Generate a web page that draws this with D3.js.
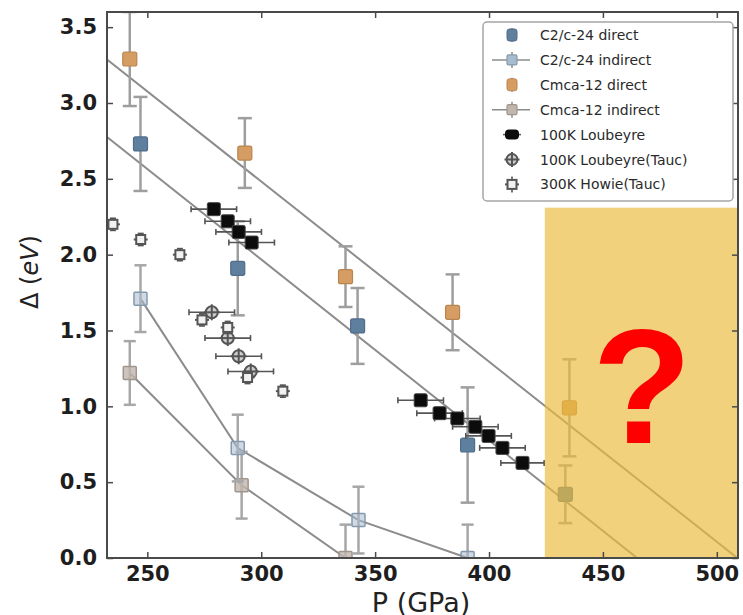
<!DOCTYPE html>
<html>
<head>
<meta charset="utf-8">
<script src="https://cdn.jsdelivr.net/npm/d3@7/dist/d3.min.js"></script>
<style>
  html, body { margin: 0; padding: 0; background: #fff; }
  svg { display: block; }
</style>
</head>
<body>
<svg id="chart" width="743" height="615"></svg>
<script>
// ---- data: band gap Δ (eV) versus pressure P (GPa) ----
const xTicks = [250, 300, 350, 400, 450, 500];
const yTicks = [0.0, 0.5, 1.0, 1.5, 2.0, 2.5, 3.0, 3.5];

// C2/c-24 direct gap
const c2cDirectP   = [247, 289.7, 342.3, 390.6, 433.5];
const c2cDirectGap = [2.73, 1.91, 1.53, 0.745, 0.42];
const c2cDirectErr = [0.31, 0.31, 0.25, 0.38, 0.19];

// C2/c-24 indirect gap
const c2cIndirectP   = [247, 289.7, 342.7, 390.6];
const c2cIndirectGap = [1.71, 0.725, 0.25, 0.0];
const c2cIndirectErr = [0.22, 0.22, 0.22, 0.22];

// Cmca-12 direct gap
const cmcaDirectP   = [242.3, 292.8, 337, 384, 435.3];
const cmcaDirectGap = [3.29, 2.67, 1.855, 1.62, 0.99];
const cmcaDirectErr = [0.31, 0.23, 0.20, 0.25, 0.32];

// Cmca-12 indirect gap
const cmcaIndirectP   = [242.3, 291.4, 337];
const cmcaIndirectGap = [1.22, 0.48, 0.0];
const cmcaIndirectErr = [0.21, 0.22, 0.22];

// 100K Loubeyre (absorption edge), with pressure uncertainty
const loubeyreP    = [279.2, 285.3, 290.1, 295.8, 370, 378.3, 386.1, 394, 399.8, 405.9, 414.7];
const loubeyreGap  = [2.30, 2.22, 2.15, 2.08, 1.04, 0.955, 0.92, 0.865, 0.805, 0.726, 0.627];
const loubeyrePErr = [10, 10, 10, 10, 10, 10, 10, 10, 10, 10, 9.5];

// 100K Loubeyre (Tauc)
const taucP    = [278.3, 285.3, 290.1, 295.4];
const taucGap  = [1.62, 1.45, 1.33, 1.23];
const taucPErr = [10, 10, 10, 10];

// 300K Howie (Tauc)
const howieP   = [234.9, 247.1, 264.3, 274, 285.3, 294, 309.5];
const howieGap = [2.20, 2.10, 2.00, 1.57, 1.52, 1.19, 1.10];
const howieErr = [0.04, 0.04, 0.04, 0.04, 0.04, 0.04, 0.04];

// linear extrapolations of the direct gaps down to closure
const fitCmcaP   = [232, 509];
const fitCmcaGap = [3.29, 0.0];
const fitC2cP    = [232, 465];
const fitC2cGap  = [2.78, 0.0];

// unexplored high-pressure window
const unknownP   = [424.5, 510];
const unknownGap = [0.0, 2.31];

const legendLabels = [
  "C2/c-24 direct", "C2/c-24 indirect", "Cmca-12 direct", "Cmca-12 indirect",
  "100K Loubeyre", "100K Loubeyre(Tauc)", "300K Howie(Tauc)"
];

// ---- layout ----
const W = 743, H = 615;
const M = { left: 107, right: 5, top: 12, bottom: 57 };
const svg = d3.select("#chart");

const x = d3.scaleLinear().domain([232.3, 509.3]).range([M.left, W - M.right]);
const y = d3.scaleLinear().domain([0, 3.6]).range([H - M.bottom, M.top]);

const C = {
  c2c: "#5f7f9f", c2cEdge: "#4f6d8a",
  c2cInd: "#a9bccd", c2cIndEdge: "#8399ae",
  cmca: "#d59d63", cmcaEdge: "#b9854f",
  cmcaInd: "#c1b6ac", cmcaIndEdge: "#a0958c",
  err: "#9e9e9e", line: "#8c8c8c", dark: "#222"
};

const defs = svg.append("defs");
defs.append("clipPath").attr("id", "plotclip")
  .append("rect")
  .attr("x", M.left).attr("y", M.top)
  .attr("width", W - M.left - M.right).attr("height", H - M.top - M.bottom);

const plot = svg.append("g").attr("clip-path", "url(#plotclip)");

const zip = (a, b, c) => a.map((v, i) => ({ p: v, g: b[i], e: c ? c[i] : 0 }));

// ---- fit lines and indirect connecting lines ----
const line = d3.line().x(d => x(d.p)).y(d => y(d.g));
[[fitCmcaP, fitCmcaGap], [fitC2cP, fitC2cGap],
 [c2cIndirectP, c2cIndirectGap], [cmcaIndirectP, cmcaIndirectGap]].forEach(([ps, gs]) => {
  plot.append("path")
    .datum(zip(ps, gs))
    .attr("d", line)
    .attr("fill", "none")
    .attr("stroke", C.line)
    .attr("stroke-width", 2);
});

// ---- vertical error bars ----
function vErr(data, color, width, cap) {
  const g = plot.append("g").attr("stroke", color).attr("stroke-width", width).attr("fill", "none");
  data.forEach(d => {
    const y0 = y(d.g - d.e), y1 = y(d.g + d.e), cx = x(d.p);
    g.append("line").attr("x1", cx).attr("x2", cx).attr("y1", y0).attr("y2", y1);
    g.append("line").attr("x1", cx - cap).attr("x2", cx + cap).attr("y1", y0).attr("y2", y0);
    g.append("line").attr("x1", cx - cap).attr("x2", cx + cap).attr("y1", y1).attr("y2", y1);
  });
}
// ---- horizontal error bars ----
function hErr(data, color, width, cap) {
  const g = plot.append("g").attr("stroke", color).attr("stroke-width", width).attr("fill", "none");
  data.forEach(d => {
    const x0 = x(d.p - d.e), x1 = x(d.p + d.e), cy = y(d.g);
    g.append("line").attr("x1", x0).attr("x2", x1).attr("y1", cy).attr("y2", cy);
    g.append("line").attr("x1", x0).attr("x2", x0).attr("y1", cy - cap).attr("y2", cy + cap);
    g.append("line").attr("x1", x1).attr("x2", x1).attr("y1", cy - cap).attr("y2", cy + cap);
  });
}
function squares(data, size, fill, stroke, sw, rx, opacity) {
  plot.append("g").selectAll("rect").data(data).join("rect")
    .attr("x", d => x(d.p) - size / 2)
    .attr("y", d => y(d.g) - size / 2)
    .attr("width", size).attr("height", size)
    .attr("rx", rx || 0)
    .attr("fill", fill).attr("fill-opacity", opacity == null ? 1 : opacity)
    .attr("stroke", stroke).attr("stroke-width", sw);
}

const cmcaInd = zip(cmcaIndirectP, cmcaIndirectGap, cmcaIndirectErr);
const c2cInd = zip(c2cIndirectP, c2cIndirectGap, c2cIndirectErr);
const cmcaDir = zip(cmcaDirectP, cmcaDirectGap, cmcaDirectErr);
const c2cDir = zip(c2cDirectP, c2cDirectGap, c2cDirectErr);

vErr(cmcaInd, "#a7a7a7", 2.5, 6);
squares(cmcaInd, 13, C.cmcaInd, C.cmcaIndEdge, 1.5, 1, 0.8);
vErr(c2cInd, "#a7a7a7", 2.5, 6);
squares(c2cInd, 13, C.c2cInd, C.c2cIndEdge, 1.5, 1, 0.55);

vErr(cmcaDir, C.err, 2.5, 7);
squares(cmcaDir, 14, C.cmca, C.cmcaEdge, 1.2, 2);
vErr(c2cDir, C.err, 2.5, 7);
squares(c2cDir, 14, C.c2c, C.c2cEdge, 1.2, 2);

// Loubeyre absorption points
const lou = zip(loubeyreP, loubeyreGap, loubeyrePErr);
hErr(lou, "#555", 1.6, 3);
squares(lou, 13, "#0c0c0c", "#444", 1, 1.5);

// Loubeyre Tauc points: ring with a cross
const tauc = zip(taucP, taucGap, taucPErr);
hErr(tauc, "#555", 1.6, 3);
function crossRing(g, cx, cy, r) {
  g.append("circle").attr("cx", cx).attr("cy", cy).attr("r", r)
    .attr("fill", "#cfcfcf").attr("stroke", "#555").attr("stroke-width", 2);
  g.append("line").attr("x1", cx - r - 2).attr("x2", cx + r + 2).attr("y1", cy).attr("y2", cy)
    .attr("stroke", "#555").attr("stroke-width", 2);
  g.append("line").attr("x1", cx).attr("x2", cx).attr("y1", cy - r - 2).attr("y2", cy + r + 2)
    .attr("stroke", "#555").attr("stroke-width", 2);
}
const taucG = plot.append("g");
tauc.forEach(d => crossRing(taucG, x(d.p), y(d.g), 6));

// Howie points: small open square with short vertical bar
const howie = zip(howieP, howieGap, howieErr);
vErr(howie, "#555", 1.6, 3);
function howieMark(g, cx, cy) {
  g.append("rect").attr("x", cx - 4.5).attr("y", cy - 4.5).attr("width", 9).attr("height", 9)
    .attr("fill", "#f2f2f2").attr("stroke", "#555").attr("stroke-width", 2);
  g.append("line").attr("x1", cx - 7).attr("x2", cx - 4.5).attr("y1", cy).attr("y2", cy)
    .attr("stroke", "#555").attr("stroke-width", 2);
  g.append("line").attr("x1", cx + 4.5).attr("x2", cx + 7).attr("y1", cy).attr("y2", cy)
    .attr("stroke", "#555").attr("stroke-width", 2);
}
const howieG = plot.append("g");
howie.forEach(d => howieMark(howieG, x(d.p), y(d.g)));

// ---- translucent highlight over the unexplored window ----
plot.append("rect")
  .attr("x", x(unknownP[0]))
  .attr("y", y(unknownGap[1]))
  .attr("width", x(unknownP[1]) - x(unknownP[0]))
  .attr("height", y(unknownGap[0]) - y(unknownGap[1]))
  .attr("fill", "#ebbb3c")
  .attr("fill-opacity", 0.68);

svg.append("text")
  .attr("x", 642).attr("y", 443)
  .attr("text-anchor", "middle")
  .attr("font-family", "Liberation Sans, Arial, sans-serif")
  .attr("font-weight", "bold")
  .attr("font-size", 163)
  .attr("fill", "#ff0000")
  .text("?");

// ---- axes: inward ticks on all four sides ----
const frame = "#4a4a4a";
const tickFont = "DejaVu Sans, sans-serif";
const axB = svg.append("g").attr("transform", `translate(0,${H - M.bottom})`)
  .call(d3.axisBottom(x).tickValues(xTicks).tickSizeInner(-6).tickSizeOuter(0).tickPadding(8).tickFormat(d3.format("d")));
const axT = svg.append("g").attr("transform", `translate(0,${M.top})`)
  .call(d3.axisTop(x).tickValues(xTicks).tickSizeInner(-6).tickSizeOuter(0).tickFormat(""));
const axL = svg.append("g").attr("transform", `translate(${M.left},0)`)
  .call(d3.axisLeft(y).tickValues(yTicks).tickSizeInner(-6).tickSizeOuter(0).tickPadding(10).tickFormat(d3.format(".1f")));
const axR = svg.append("g").attr("transform", `translate(${W - M.right},0)`)
  .call(d3.axisRight(y).tickValues(yTicks).tickSizeInner(-6).tickSizeOuter(0).tickFormat(""));
[axB, axT, axL, axR].forEach(a => {
  a.select(".domain").remove();
  a.selectAll(".tick line").attr("stroke", frame).attr("stroke-width", 1.5);
  a.selectAll("text").attr("font-family", tickFont).attr("font-weight", "bold")
    .attr("font-size", 21).attr("fill", "#1e1e1e");
});
svg.append("rect")
  .attr("x", M.left).attr("y", M.top)
  .attr("width", W - M.left - M.right).attr("height", H - M.top - M.bottom)
  .attr("fill", "none").attr("stroke", frame).attr("stroke-width", 2);

// axis titles
svg.append("text")
  .attr("x", 421).attr("y", 612)
  .attr("text-anchor", "middle")
  .attr("font-family", tickFont).attr("font-size", 27).attr("fill", "#222")
  .text("P (GPa)");
const yl = svg.append("text")
  .attr("transform", "translate(38,272) rotate(-90)")
  .attr("text-anchor", "middle")
  .attr("font-family", tickFont).attr("font-size", 24).attr("fill", "#222");
yl.append("tspan").text("Δ (");
yl.append("tspan").attr("font-style", "italic").text("eV");
yl.append("tspan").text(")");

// ---- legend ----
const lg = svg.append("g");
lg.append("rect").attr("x", 483).attr("y", 22).attr("width", 250).attr("height", 179)
  .attr("rx", 4).attr("fill", "#fff").attr("stroke", "#a5a5a5").attr("stroke-width", 1.5);
const ly = i => 35 + i * 24.9;
const mx = 512;
legendLabels.forEach((lab, i) => {
  const cy = ly(i);
  const g = lg.append("g");
  if (i === 0 || i === 2) {
    const col = i === 0 ? C.c2c : C.cmca, edge = i === 0 ? C.c2cEdge : C.cmcaEdge;
    g.append("line").attr("x1", mx).attr("x2", mx).attr("y1", cy - 7).attr("y2", cy + 7)
      .attr("stroke", C.err).attr("stroke-width", 2);
    g.append("rect").attr("x", mx - 5).attr("y", cy - 6).attr("width", 10).attr("height", 12).attr("rx", 2.5)
      .attr("fill", col).attr("stroke", edge);
  } else if (i === 1 || i === 3) {
    const col = i === 1 ? C.c2cInd : C.cmcaInd, edge = i === 1 ? C.c2cIndEdge : C.cmcaIndEdge;
    g.append("line").attr("x1", 492).attr("x2", 530).attr("y1", cy).attr("y2", cy)
      .attr("stroke", C.line).attr("stroke-width", 1.5);
    g.append("line").attr("x1", mx).attr("x2", mx).attr("y1", cy - 8).attr("y2", cy + 8)
      .attr("stroke", "#a7a7a7").attr("stroke-width", 2);
    g.append("rect").attr("x", mx - 5).attr("y", cy - 5).attr("width", 10).attr("height", 10).attr("rx", 1.5)
      .attr("fill", col).attr("stroke", edge).attr("stroke-width", 1.2);
  } else if (i === 4) {
    g.append("line").attr("x1", mx - 9).attr("x2", mx + 9).attr("y1", cy).attr("y2", cy)
      .attr("stroke", "#555").attr("stroke-width", 1.5);
    g.append("rect").attr("x", mx - 7).attr("y", cy - 5).attr("width", 14).attr("height", 10).attr("rx", 4)
      .attr("fill", "#0c0c0c");
  } else if (i === 5) {
    crossRing(g, mx, cy, 5.5);
  } else {
    g.append("line").attr("x1", mx).attr("x2", mx).attr("y1", cy - 8).attr("y2", cy + 8)
      .attr("stroke", "#555").attr("stroke-width", 1.6);
    howieMark(g, mx, cy);
  }
  g.append("text").attr("x", 540).attr("y", cy + 5)
    .attr("font-family", tickFont).attr("font-size", 14).attr("fill", "#2a2a2a")
    .text(lab);
});
</script>
</body>
</html>
